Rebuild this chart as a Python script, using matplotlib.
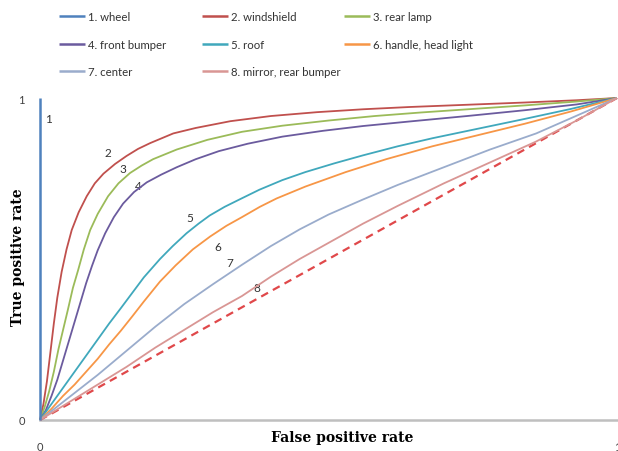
import matplotlib
matplotlib.use("Agg")
import matplotlib.pyplot as plt

# ---- data ----
labels = ["1. wheel", "2. windshield", "3. rear lamp", "4. front bumper",
          "5. roof", "6. handle, head light", "7. center", "8. mirror, rear bumper"]
colors = ["#4f81bd", "#c0504d", "#9bbb59", "#6b5b9e",
          "#40a8bc", "#f79646", "#9aaccc", "#d99694"]

wheel_fpr = [0.0, 0.0]
wheel_tpr = [0.0, 1.0]

windshield_fpr = [0, 0.006, 0.012, 0.018, 0.024, 0.030, 0.0375, 0.046, 0.055, 0.067, 0.081,
                  0.095, 0.110, 0.13, 0.15, 0.17, 0.191, 0.231, 0.27, 0.33, 0.40, 0.48, 0.56,
                  0.64, 0.74, 0.84, 0.93, 1.0]
windshield_tpr = [0, 0.05, 0.12, 0.21, 0.30, 0.38, 0.46, 0.53, 0.59, 0.645, 0.695,
                  0.735, 0.765, 0.795, 0.82, 0.842, 0.86, 0.89, 0.907, 0.928, 0.944, 0.956, 0.965,
                  0.972, 0.979, 0.986, 0.993, 1.0]

rearlamp_fpr = [0, 0.008, 0.016, 0.024, 0.032, 0.040, 0.048, 0.057, 0.066, 0.076, 0.087, 0.10,
                0.118, 0.136, 0.156, 0.176, 0.196, 0.237, 0.29, 0.35, 0.42, 0.50, 0.58, 0.66,
                0.75, 0.84, 0.93, 1.0]
rearlamp_tpr = [0, 0.04, 0.09, 0.15, 0.22, 0.28, 0.34, 0.41, 0.465, 0.53, 0.59, 0.64,
                0.695, 0.735, 0.767, 0.79, 0.81, 0.84, 0.87, 0.895, 0.914, 0.93, 0.944, 0.955,
                0.966, 0.977, 0.989, 1.0]

bumper_fpr = [0, 0.01, 0.02, 0.03, 0.04, 0.05, 0.06, 0.07, 0.08, 0.09, 0.10, 0.113, 0.128, 0.144,
              0.163, 0.185, 0.21, 0.237, 0.27, 0.31, 0.36, 0.42, 0.49, 0.56, 0.64, 0.74, 0.84,
              0.93, 1.0]
bumper_tpr = [0, 0.03, 0.075, 0.125, 0.185, 0.245, 0.305, 0.365, 0.425, 0.478, 0.527, 0.58, 0.63, 0.672,
              0.708, 0.738, 0.762, 0.785, 0.81, 0.835, 0.858, 0.88, 0.898, 0.913, 0.927, 0.944, 0.962,
              0.98, 1.0]

roof_fpr = [0, 0.02, 0.04, 0.06, 0.08, 0.10, 0.12, 0.14, 0.16, 0.18, 0.208, 0.23, 0.254, 0.275,
            0.294, 0.32, 0.347, 0.38, 0.42, 0.46, 0.51, 0.56, 0.62, 0.68, 0.76, 0.84, 0.92, 1.0]
roof_tpr = [0, 0.05, 0.10, 0.15, 0.20, 0.25, 0.30, 0.347, 0.395, 0.443, 0.50, 0.54, 0.58, 0.61,
            0.635, 0.662, 0.686, 0.715, 0.745, 0.77, 0.797, 0.822, 0.85, 0.875, 0.905, 0.935, 0.966, 1.0]

handle_fpr = [0, 0.02, 0.04, 0.06, 0.08, 0.10, 0.12, 0.14, 0.16, 0.18, 0.208, 0.235, 0.265,
              0.295, 0.323, 0.35, 0.381, 0.41, 0.46, 0.53, 0.60, 0.68, 0.76, 0.84, 0.92, 1.0]
handle_tpr = [0, 0.035, 0.075, 0.11, 0.15, 0.19, 0.235, 0.277, 0.322, 0.368, 0.43, 0.48, 0.53,
              0.57, 0.603, 0.63, 0.662, 0.688, 0.725, 0.77, 0.81, 0.85, 0.885, 0.92, 0.958, 1.0]

center_fpr = [0, 0.05, 0.10, 0.15, 0.20, 0.25, 0.30, 0.35, 0.40, 0.45, 0.50, 0.56, 0.62,
              0.70, 0.78, 0.86, 0.93, 1.0]
center_tpr = [0, 0.07, 0.14, 0.215, 0.29, 0.36, 0.422, 0.482, 0.54, 0.592, 0.638, 0.685, 0.73,
              0.785, 0.84, 0.89, 0.945, 1.0]

mirror_fpr = [0, 0.05, 0.10, 0.15, 0.20, 0.25, 0.30, 0.35, 0.40, 0.45, 0.50, 0.56, 0.62,
              0.70, 0.78, 0.86, 0.93, 1.0]
mirror_tpr = [0, 0.055, 0.11, 0.165, 0.225, 0.28, 0.335, 0.385, 0.445, 0.50, 0.55, 0.61, 0.665,
              0.735, 0.80, 0.865, 0.93, 1.0]

chance_fpr = [0.0, 1.0]
chance_tpr = [0.0, 1.0]

curve_tags = ["1", "2", "3", "4", "5", "6", "7", "8"]
tag_x = [0.014, 0.118, 0.144, 0.170, 0.260, 0.309, 0.329, 0.376]
tag_y = [0.935, 0.832, 0.780, 0.727, 0.630, 0.540, 0.490, 0.413]

xtick_vals = [0, 1]
xtick_labels = ["0", "1"]
ytick_vals = [0, 1]
ytick_labels = ["0", "1"]

series = [(wheel_fpr, wheel_tpr), (windshield_fpr, windshield_tpr), (rearlamp_fpr, rearlamp_tpr),
          (bumper_fpr, bumper_tpr), (roof_fpr, roof_tpr), (handle_fpr, handle_tpr),
          (center_fpr, center_tpr), (mirror_fpr, mirror_tpr)]

# ---- figure ----
fig = plt.figure(figsize=(6.18, 4.52), dpi=100)
W, H = 618, 452
ax = fig.add_axes([40 / W, (H - 421) / H, 577 / W, 322 / H])
ax.set_xlim(0, 1)
ax.set_ylim(0, 1)

ax.plot(chance_fpr, chance_tpr, color="#e0484a", lw=1.6, ls=(0, (3.5, 2.5)), clip_on=False, zorder=3)
handles = []
for i, ((fx, ty), c, lab) in enumerate(zip(series, colors, labels)):
    lw = 1.8 if i == 0 else 1.3
    h, = ax.plot(fx, ty, color=c, lw=lw, label=lab, clip_on=False, zorder=4 if i else 5,
                 solid_capstyle="butt", solid_joinstyle="round")
    handles.append(h)

for t, x, y in zip(curve_tags, tag_x, tag_y):
    ax.text(x, y, t, fontsize=8.5, color="#333333", ha="center", va="center", family="Lato")

for s in ["top", "right", "left"]:
    ax.spines[s].set_visible(False)
ax.spines["bottom"].set_color("#bfbfbf")
ax.spines["bottom"].set_linewidth(1.8)

ax.set_xticks(xtick_vals)
ax.set_xticklabels(xtick_labels)
ax.set_yticks(ytick_vals)
ax.set_yticklabels(ytick_labels)
ax.tick_params(axis="both", length=0, labelsize=8, labelcolor="#404040")
ax.tick_params(axis="x", pad=15)
ax.tick_params(axis="y", pad=11)
for lbl in ax.get_xticklabels() + ax.get_yticklabels():
    lbl.set_family("Lato")

fig.text(342 / W, 1 - 438 / H, "False positive rate", ha="center", va="center",
         fontsize=10, fontweight="bold", family="DejaVu Serif")
fig.text(18 / W, 1 - 257 / H, "True positive rate", ha="center", va="center", rotation=90,
         fontsize=10, fontweight="bold", family="DejaVu Serif")

# legend arranged in three columns, row-wise order
col_x = [59, 202, 344]
cols = [[0, 3, 6], [1, 4, 7], [2, 5]]
for cx, idxs in zip(col_x, cols):
    leg = fig.legend([handles[i] for i in idxs], [labels[i] for i in idxs],
                     loc="upper left", bbox_to_anchor=(cx / W, 1 - 12 / H),
                     frameon=False, handlelength=2.3, handletextpad=0.25,
                     labelspacing=1.45, borderaxespad=0, borderpad=0,
                     prop={"family": "Lato", "size": 8.2})
    for t in leg.get_texts():
        t.set_color("#333333")
    for l in leg.get_lines():
        l.set_linewidth(1.8)

fig.savefig("out.png", dpi=100)
